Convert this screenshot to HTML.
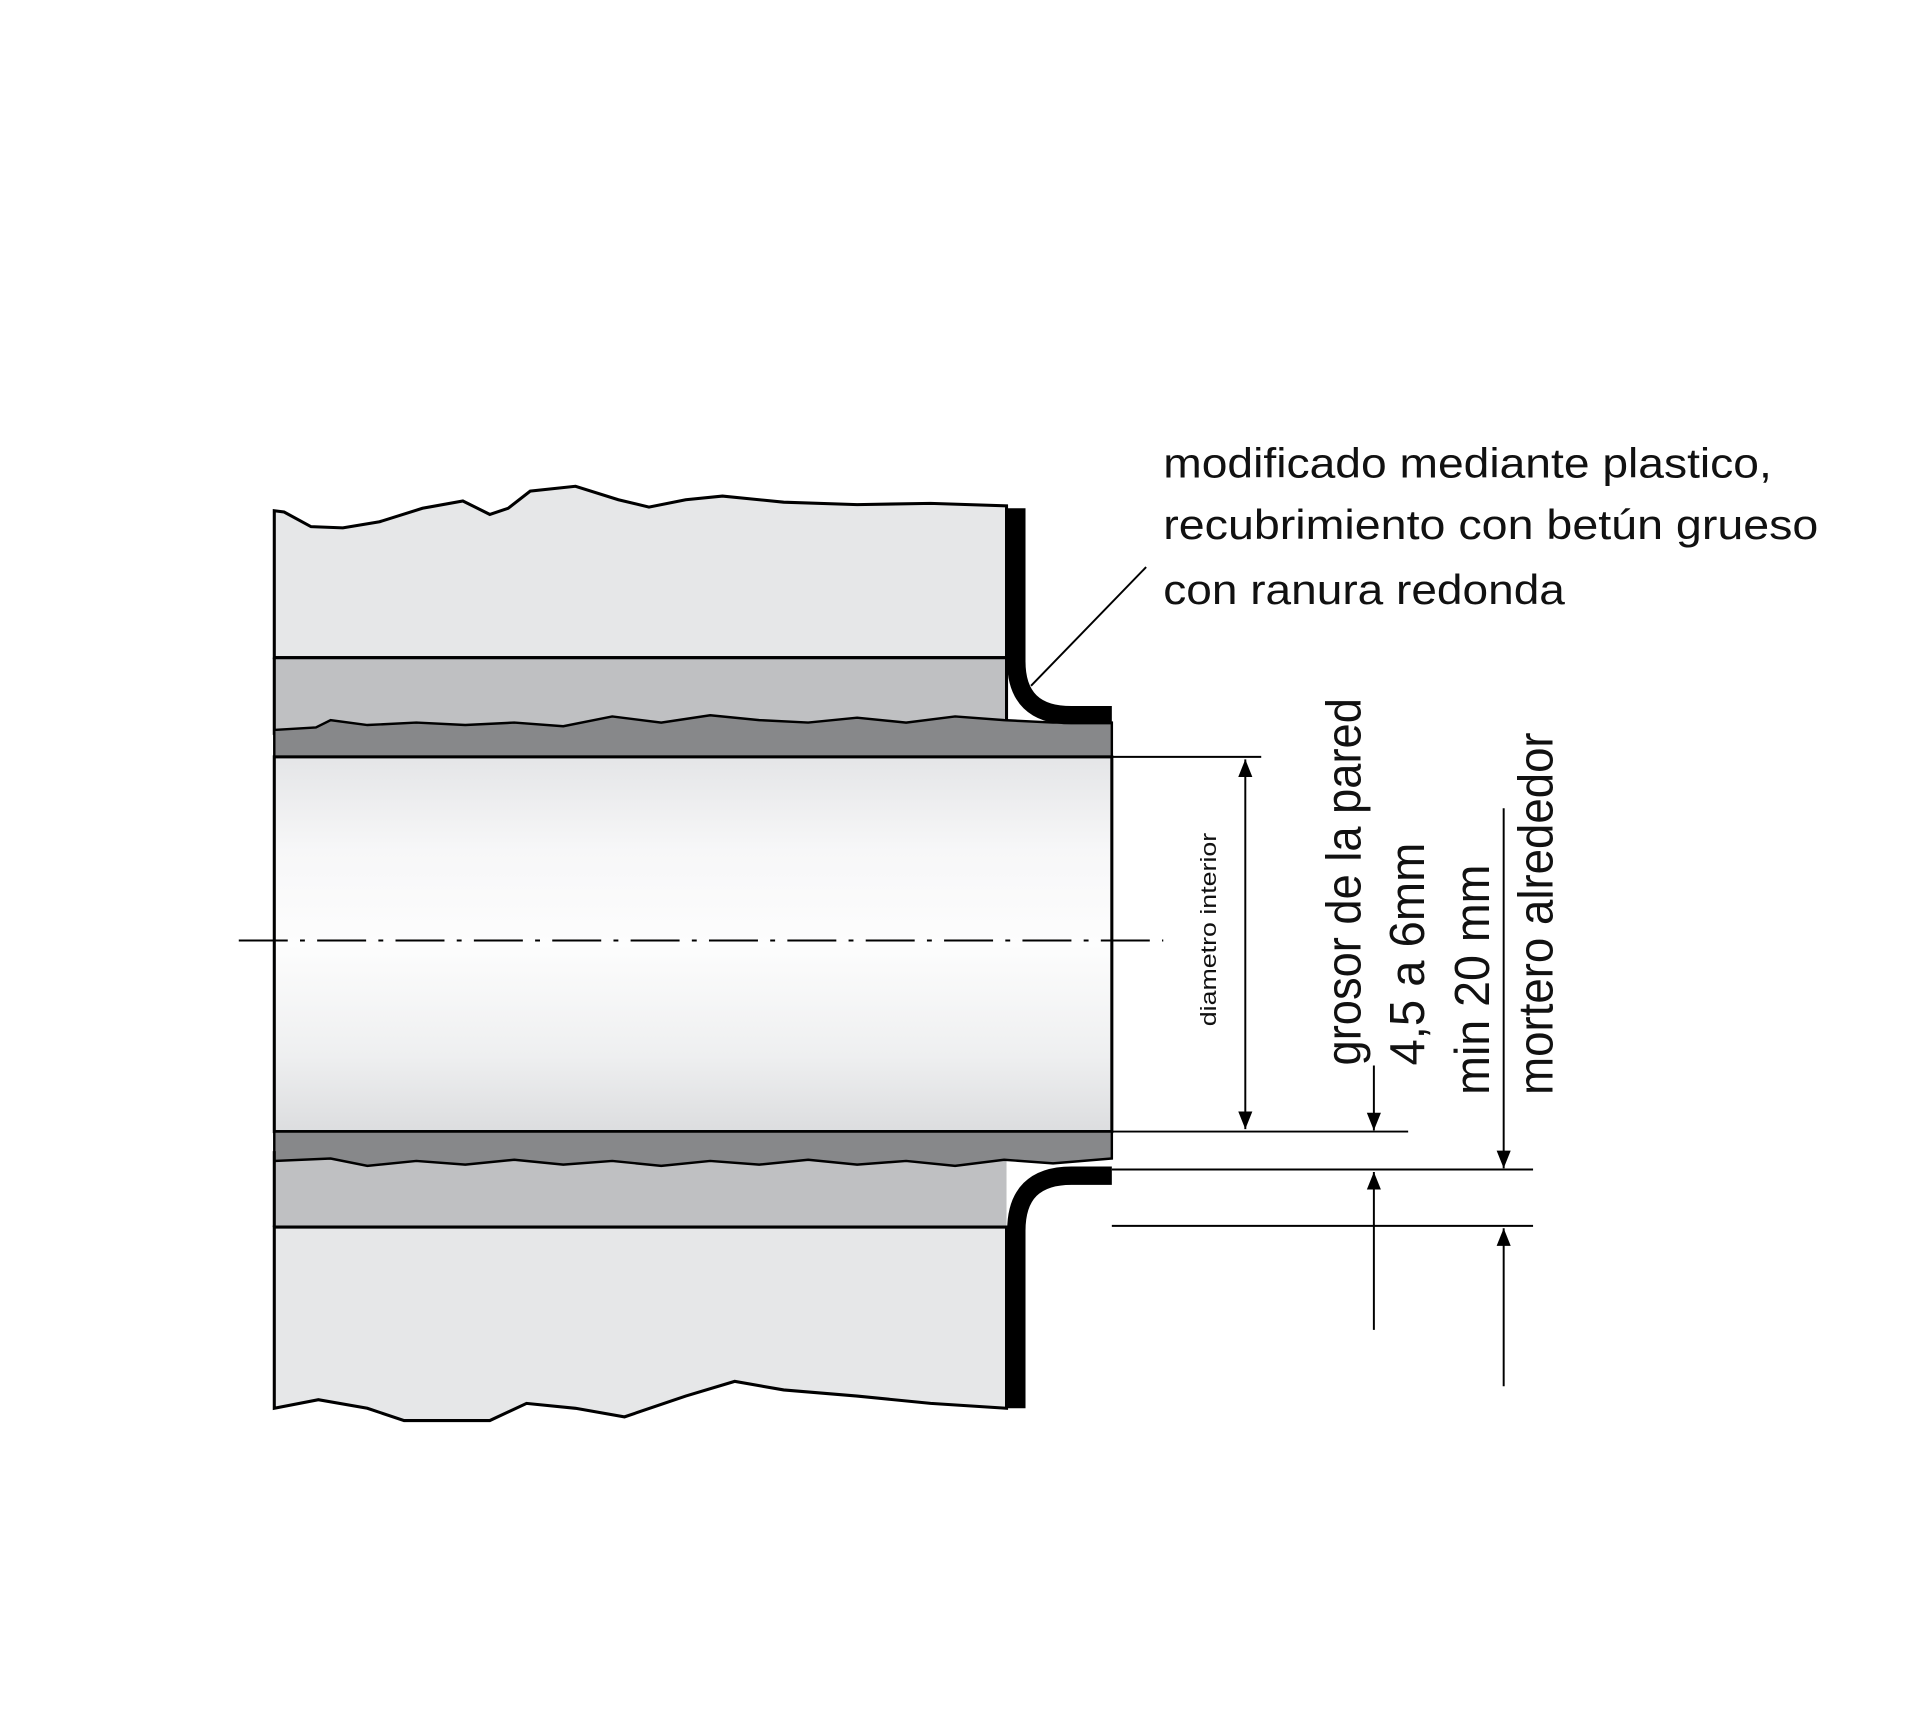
<!DOCTYPE html>
<html><head><meta charset="utf-8"><style>
html,body{margin:0;padding:0;background:#fff}
svg{display:block}
text{font-family:"Liberation Sans",sans-serif;fill:#111}
</style></head><body>
<svg width="1920" height="1717" viewBox="0 0 1568 1402" xmlns="http://www.w3.org/2000/svg">
<defs>
<linearGradient id="g" x1="0" y1="0" x2="0" y2="1">
<stop offset="0" stop-color="#e4e5e7"/><stop offset="0.25" stop-color="#f7f7f8"/><stop offset="0.5" stop-color="#fdfdfd"/><stop offset="0.8" stop-color="#eeeff0"/><stop offset="1" stop-color="#dcdddf"/></linearGradient>
<marker id="a" viewBox="0 0 10 10" refX="10" refY="5" markerWidth="9" markerHeight="9" orient="auto-start-reverse"><path d="M0,1 L10,5 L0,9 z" fill="#000"/></marker>
</defs>
<!-- upper wall -->
<path d="M224,417 L232,418 L254,430 L280,431 L310,426 L345,415 L378,409 L400,420 L415,415 L433,401 L470,397 L505,408 L530,414 L560,408 L590,405 L640,410 L700,412 L760,411 L822,413 L822,537 L224,537 Z" fill="#e6e7e8" stroke="#000" stroke-width="2.5"/>
<rect x="224" y="537" width="598" height="62" fill="#bfc0c2"/>
<line x1="224" y1="537" x2="822" y2="537" stroke="#000" stroke-width="2.5"/>
<line x1="224" y1="537" x2="224" y2="600" stroke="#000" stroke-width="2.5"/>
<line x1="822" y1="537" x2="822" y2="590" stroke="#000" stroke-width="2.5"/>
<path d="M224,596 L258,594 L270,588 L300,592 L340,590 L380,592 L420,590 L460,593 L500,585 L540,590 L580,584 L620,588 L660,590 L700,586 L740,590 L780,585 L820,588 L860,590 L908,590 L908,618 L224,618 Z" fill="#87888a" stroke="#000" stroke-width="2"/>
<!-- pipe interior -->
<rect x="224" y="618" width="684" height="306" fill="url(#g)" stroke="#000" stroke-width="2.5"/>
<!-- lower -->
<rect x="224" y="942" width="598" height="60" fill="#bfc0c2"/>
<path d="M224,924 L908,924 L908,946 L860,950 L820,947 L780,952 L740,948 L700,951 L660,947 L620,951 L580,948 L540,952 L500,948 L460,951 L420,947 L380,951 L340,948 L300,952 L270,946 L224,948 Z" fill="#87888a" stroke="#000" stroke-width="2"/>
<line x1="224" y1="1002" x2="822" y2="1002" stroke="#000" stroke-width="2.5"/>
<line x1="224" y1="940" x2="224" y2="1002" stroke="#000" stroke-width="2.5"/>
<path d="M224,1002 L822,1002 L822,1150 L760,1146 L700,1140 L640,1135 L600,1128 L560,1140 L510,1157 L470,1150 L430,1146 L400,1160 L330,1160 L300,1150 L260,1143 L224,1150 Z" fill="#e6e7e8" stroke="#000" stroke-width="2.5"/>
<!-- bitumen -->
<path d="M830,415 L830,540 Q830,584 875,584 L908,584" fill="none" stroke="#000" stroke-width="15"/>
<path d="M830,1150 L830,1005 Q830,960 875,960 L908,960" fill="none" stroke="#000" stroke-width="15"/>
<!-- leader -->
<line x1="936" y1="463" x2="842" y2="560" stroke="#000" stroke-width="1.6"/>
<!-- centerline -->
<line x1="195" y1="768" x2="950" y2="768" stroke="#000" stroke-width="1.6" stroke-dasharray="40,10,4,10"/>
<!-- dims -->
<g stroke="#000" stroke-width="1.6" fill="none">
<line x1="908" y1="618" x2="1030" y2="618"/>
<line x1="908" y1="924" x2="1150" y2="924"/>
<line x1="908" y1="955" x2="1252" y2="955"/>
<line x1="908" y1="1001" x2="1252" y2="1001"/>
<line x1="1017" y1="620" x2="1017" y2="922" marker-start="url(#a)" marker-end="url(#a)"/>
<line x1="1122" y1="870" x2="1122" y2="923" marker-end="url(#a)"/>
<line x1="1122" y1="1086" x2="1122" y2="957" marker-end="url(#a)"/>
<line x1="1228" y1="660" x2="1228" y2="954" marker-end="url(#a)"/>
<line x1="1228" y1="1132" x2="1228" y2="1003" marker-end="url(#a)"/>
</g>
<text x="950" y="390" font-size="34" textLength="497" lengthAdjust="spacingAndGlyphs">modificado mediante plastico,</text>
<text x="950" y="440" font-size="34" textLength="535" lengthAdjust="spacingAndGlyphs">recubrimiento con betún grueso</text>
<text x="950" y="493" font-size="34" textLength="328" lengthAdjust="spacingAndGlyphs">con ranura redonda</text>
<text transform="translate(993,838) rotate(-90)" font-size="18" textLength="158" lengthAdjust="spacingAndGlyphs">diametro interior</text>
<text transform="translate(1111,870) rotate(-90)" font-size="40" textLength="300" lengthAdjust="spacingAndGlyphs">grosor de la pared</text>
<text transform="translate(1163,870) rotate(-90)" font-size="40" textLength="182" lengthAdjust="spacingAndGlyphs">4,5 a 6mm</text>
<text transform="translate(1216,894) rotate(-90)" font-size="40" textLength="188" lengthAdjust="spacingAndGlyphs">min 20 mm</text>
<text transform="translate(1268,894) rotate(-90)" font-size="40" textLength="296" lengthAdjust="spacingAndGlyphs">mortero alrededor</text>
</svg>
</body></html>
